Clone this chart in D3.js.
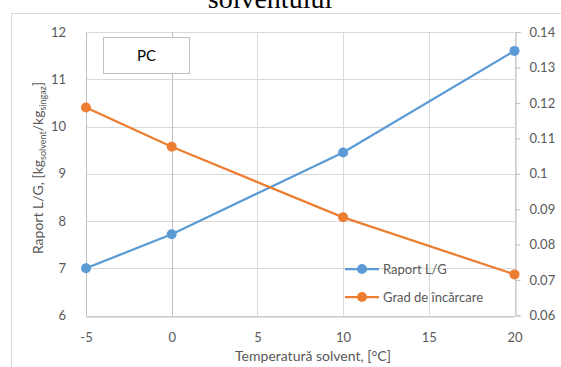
<!DOCTYPE html>
<html>
<head>
<meta charset="utf-8">
<script src="https://cdn.jsdelivr.net/npm/d3@7"></script>
<style>
  html, body { margin: 0; padding: 0; background: #fff; }
  svg { display: block; }
</style>
</head>
<body>
<svg id="chart" width="561" height="367"></svg>
<script>
// Solvent temperature (°C)
const temperatures = [-5, 0, 10, 20];
// L/G ratio, kg solvent / kg syngas (left axis)
const raportLG = [7.0, 7.72, 9.45, 11.6];
// Loading degree (right axis)
const gradIncarcare = [0.1187, 0.1076, 0.0877, 0.0716];

const xTicks = [-5, 0, 5, 10, 15, 20];
const yLeftTicks = [6, 7, 8, 9, 10, 11, 12];
const yRightTicks = [0.06, 0.07, 0.08, 0.09, 0.1, 0.11, 0.12, 0.13, 0.14];

const seriesNames = ["Raport L/G", "Grad de încărcare"];
const colors = ["#5b9bd5", "#ed7d31"];

const svg = d3.select("#chart");
const font = "Lato, 'Open Sans', sans-serif";
const gray = "#595959";

const plot = { left: 86, right: 514.5, top: 32, bottom: 315.5 };

const x = d3.scaleLinear().domain([-5, 20]).range([plot.left, plot.right]);
const yL = d3.scaleLinear().domain([6, 12]).range([plot.bottom, plot.top]);
const yR = d3.scaleLinear().domain([0.06, 0.14]).range([plot.bottom, plot.top]);

// Chart area border
svg.append("rect")
  .attr("x", 11.5).attr("y", 13.5)
  .attr("width", 600).attr("height", 400)
  .attr("fill", "none").attr("stroke", "#d9d9d9").attr("stroke-width", 1);

// Title (last line, top edge of the page)
svg.append("text")
  .attr("x", 270).attr("y", 7.5)
  .attr("text-anchor", "middle")
  .attr("font-family", "'Liberation Serif', 'Times New Roman', serif")
  .attr("font-size", 28)
  .attr("fill", "#000")
  .text("solventului");

// Horizontal gridlines
svg.append("g").selectAll("line")
  .data(yLeftTicks)
  .join("line")
  .attr("x1", plot.left).attr("x2", plot.right)
  .attr("y1", d => Math.round(yL(d)) + 0.5).attr("y2", d => Math.round(yL(d)) + 0.5)
  .attr("stroke", "#d9d9d9").attr("stroke-width", 1);

// Vertical gridlines
svg.append("g").selectAll("line")
  .data(xTicks)
  .join("line")
  .attr("x1", d => Math.round(x(d)) + 0.5).attr("x2", d => Math.round(x(d)) + 0.5)
  .attr("y1", plot.top).attr("y2", plot.bottom)
  .attr("stroke", d => d === 0 ? "#bfbfbf" : "#d9d9d9").attr("stroke-width", 1);

const plainNum = d => String(+(+d).toFixed(2));

// Left axis labels
const leftAxis = d3.axisLeft(yL).tickValues(yLeftTicks).tickSize(0).tickPadding(20).tickFormat(plainNum);
const gL = svg.append("g").attr("transform", `translate(${plot.left},0)`).call(leftAxis);
gL.select(".domain").attr("stroke", "#bfbfbf");
gL.selectAll("text").attr("font-family", font).attr("font-size", 13).attr("fill", gray);

// Right axis with outer ticks
const rightAxis = d3.axisRight(yR).tickValues(yRightTicks).tickSize(5).tickPadding(9).tickFormat(plainNum);
const gR = svg.append("g").attr("transform", `translate(${Math.round(plot.right) + 0.5},0)`).call(rightAxis);
gR.select(".domain").attr("stroke", "#bfbfbf");
gR.selectAll(".tick line").attr("stroke", "#bfbfbf");
gR.selectAll("text").attr("font-family", font).attr("font-size", 13).attr("fill", gray);

// Bottom axis labels
const bottomAxis = d3.axisBottom(x).tickValues(xTicks).tickSize(0).tickPadding(16).tickFormat(plainNum);
const gB = svg.append("g").attr("transform", `translate(0,${Math.round(plot.bottom) + 0.5})`).call(bottomAxis);
gB.select(".domain").attr("stroke", "#bfbfbf");
gB.selectAll("text").attr("font-family", font).attr("font-size", 13).attr("fill", gray);

// Axis titles
svg.append("text")
  .attr("x", 313).attr("y", 361)
  .attr("text-anchor", "middle")
  .attr("font-family", font).attr("font-size", 14).attr("fill", gray)
  .text("Temperatură solvent, [°C]");

const yTitle = svg.append("text")
  .attr("transform", "translate(43,168) rotate(-90)")
  .attr("text-anchor", "middle")
  .attr("font-family", font).attr("font-size", 14).attr("fill", gray);
yTitle.append("tspan").text("Raport L/G, [kg");
yTitle.append("tspan").attr("font-size", 9).attr("dy", 3).text("solvent");
yTitle.append("tspan").attr("dy", -3).text("/kg");
yTitle.append("tspan").attr("font-size", 9).attr("dy", 3).text("singaz");
yTitle.append("tspan").attr("dy", -3).text("]");

// Series
const series = [
  { name: seriesNames[0], values: raportLG, y: yL, color: colors[0] },
  { name: seriesNames[1], values: gradIncarcare, y: yR, color: colors[1] }
];

series.forEach(s => {
  const pts = temperatures.map((t, i) => [t, s.values[i]]);
  svg.append("path")
    .datum(pts)
    .attr("fill", "none")
    .attr("stroke", s.color)
    .attr("stroke-width", 2.25)
    .attr("stroke-linejoin", "round")
    .attr("d", d3.line().x(d => x(d[0])).y(d => s.y(d[1])));
  svg.append("g").selectAll("circle")
    .data(pts)
    .join("circle")
    .attr("cx", d => x(d[0])).attr("cy", d => s.y(d[1]))
    .attr("r", 5)
    .attr("fill", s.color);
});

// Label box
svg.append("rect")
  .attr("x", 103.5).attr("y", 37.5).attr("width", 86).attr("height", 36)
  .attr("fill", "#fff").attr("stroke", "#bfbfbf").attr("stroke-width", 1);
svg.append("text")
  .attr("x", 146.5).attr("y", 61)
  .attr("text-anchor", "middle")
  .attr("font-family", font).attr("font-size", 15).attr("fill", "#000")
  .text("PC");

// Legend
const legend = svg.append("g").attr("transform", "translate(345,269)");
series.forEach((s, i) => {
  const g = legend.append("g").attr("transform", `translate(0,${i * 28})`);
  g.append("line").attr("x1", 0).attr("x2", 34).attr("y1", 0).attr("y2", 0)
    .attr("stroke", s.color).attr("stroke-width", 2.25);
  g.append("circle").attr("cx", 17).attr("cy", 0).attr("r", 5).attr("fill", s.color);
  g.append("text").attr("x", 38).attr("y", 4.5)
    .attr("font-family", font).attr("font-size", 13).attr("fill", gray)
    .text(s.name);
});
</script>
</body>
</html>
